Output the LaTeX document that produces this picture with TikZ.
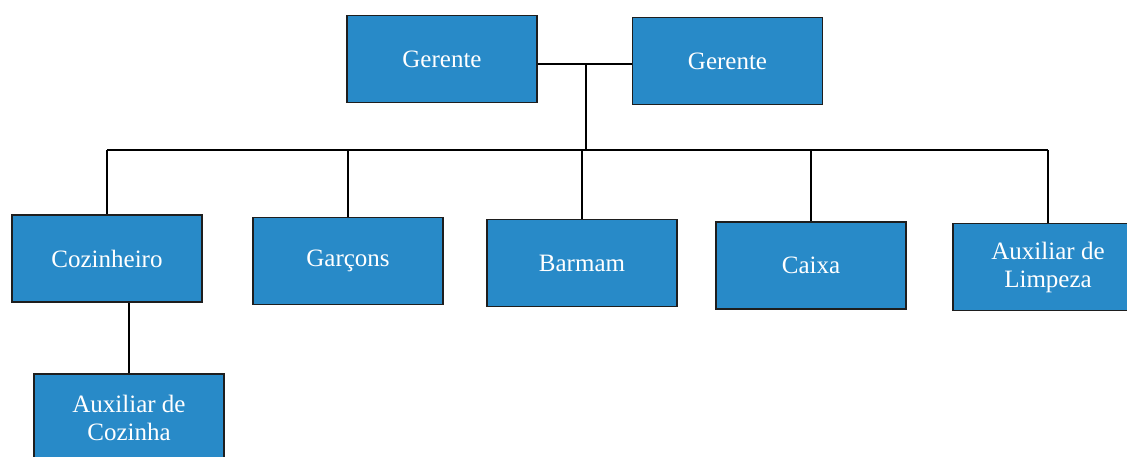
\documentclass[tikz,border=0pt]{standalone}
\usepackage{fontspec}
\setmainfont{Liberation Serif}
\definecolor{boxblue}{RGB}{40,138,200}
\definecolor{boxline}{RGB}{30,30,30}
\begin{document}
\begin{tikzpicture}[x=1pt,y=-1pt,
  orgbox/.style={draw=boxline,line width=1.3pt,fill=boxblue,text=white,
    minimum width=190pt,minimum height=87pt,inner sep=0pt,align=center,
    font=\fontsize{25}{28}\selectfont},
  link/.style={draw=black,line width=1.3pt}]
\useasboundingbox (0,0) rectangle (1127,456);
\clip (0,0) rectangle (1127,456);
\node[orgbox] (g1) at (442,59) {Gerente};
\node[orgbox] (g2) at (727.5,61) {Gerente};
\node[orgbox] (coz) at (107,258.5) {Cozinheiro};
\node[orgbox] (gar) at (348,261) {Garçons};
\node[orgbox] (bar) at (582,263) {Barmam};
\node[orgbox] (cai) at (811,265.5) {Caixa};
\node[orgbox] (lim) at (1048,267) {Auxiliar de\\Limpeza};
\node[orgbox] (aux) at (129,417.5) {Auxiliar de\\Cozinha};
\coordinate (j) at (586,64);
\coordinate (bus) at (586,150);
\draw[link] (g1.east |- j) -- (g2.west |- j);
\draw[link] (j) -- (bus);
\draw[link] (coz.north |- bus) -- (lim.north |- bus);
\foreach \n in {coz,gar,bar,cai,lim}
  \draw[link] (\n.north |- bus) -- (\n.north);
\draw[link] (aux.north) -- (aux.north |- coz.south);
\end{tikzpicture}
\end{document}
